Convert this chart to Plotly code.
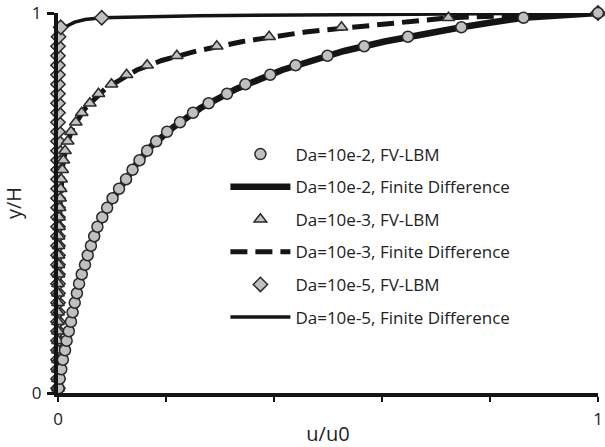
import plotly.graph_objects as go

# ---------------- data ----------------
y_cells = [0.0125, 0.0375, 0.0625, 0.0875, 0.1125, 0.1375, 0.1625, 0.1875, 0.2125, 0.2375,
           0.2625, 0.2875, 0.3125, 0.3375, 0.3625, 0.3875, 0.4125, 0.4375, 0.4625, 0.4875,
           0.5125, 0.5375, 0.5625, 0.5875, 0.6125, 0.6375, 0.6625, 0.6875, 0.7125, 0.7375,
           0.7625, 0.7875, 0.8125, 0.8375, 0.8625, 0.8875, 0.9125, 0.9375, 0.9625, 0.9875, 1.0]

u_da2_lbm = [0.001, 0.003, 0.006, 0.009, 0.013, 0.016, 0.020, 0.024, 0.027, 0.031,
             0.035, 0.039, 0.044, 0.050, 0.055, 0.061, 0.067, 0.073, 0.082, 0.091,
             0.101, 0.113, 0.126, 0.138, 0.151, 0.165, 0.182, 0.202, 0.226, 0.250,
             0.279, 0.313, 0.347, 0.393, 0.440, 0.499, 0.567, 0.648, 0.747, 0.862, 1.0]

u_da3_lbm = [0.000, 0.000, 0.000, 0.000, 0.000, 0.000, 0.000, 0.000, 0.000, 0.000,
             0.000, 0.000, 0.001, 0.001, 0.001, 0.001, 0.001, 0.002, 0.002, 0.003,
             0.004, 0.005, 0.006, 0.008, 0.010, 0.013, 0.018, 0.024, 0.033, 0.044,
             0.059, 0.075, 0.099, 0.127, 0.165, 0.220, 0.294, 0.391, 0.525, 0.723, 1.0]

u_da5_lbm = [0.000, 0.000, 0.000, 0.000, 0.000, 0.000, 0.000, 0.000, 0.000, 0.000,
             0.000, 0.000, 0.000, 0.000, 0.000, 0.000, 0.000, 0.000, 0.000, 0.000,
             0.000, 0.000, 0.000, 0.000, 0.000, 0.000, 0.000, 0.000, 0.000, 0.000,
             0.000, 0.000, 0.000, 0.000, 0.000, 0.000, 0.000, 0.001, 0.005, 0.081, 1.0]

# finite difference curves
y_fd2 = [0.0, 0.05, 0.1, 0.15, 0.2, 0.25, 0.3, 0.35, 0.4, 0.45, 0.5, 0.55, 0.6, 0.65,
         0.7, 0.75, 0.8, 0.85, 0.9, 0.925, 0.95, 0.9625, 0.975, 0.9875, 1.0]
u_fd2 = [0.0, 0.004, 0.011, 0.019, 0.027, 0.033, 0.041, 0.053, 0.065, 0.078, 0.096, 0.120,
         0.144, 0.173, 0.214, 0.264, 0.330, 0.415, 0.530, 0.605, 0.695, 0.747, 0.802, 0.862, 1.0]

y_fd3 = [0.0, 0.4, 0.5, 0.55, 0.6, 0.65, 0.7, 0.75, 0.8, 0.85, 0.875, 0.9, 0.925, 0.95,
         0.975, 0.9875, 1.0]
u_fd3 = [0.0, 0.001, 0.004, 0.006, 0.009, 0.015, 0.028, 0.051, 0.087, 0.146, 0.192, 0.257,
         0.342, 0.458, 0.624, 0.723, 1.0]

y_fd5 = [0.0, 0.93, 0.955, 0.963, 0.976, 0.983, 0.9875, 0.993, 0.996, 1.0]
u_fd5 = [0.0, 0.0, 0.004, 0.013, 0.031, 0.05, 0.081, 0.26, 0.6, 1.0]

names = ["Da=10e-2, FV-LBM", "Da=10e-2, Finite Difference",
         "Da=10e-3, FV-LBM", "Da=10e-3, Finite Difference",
         "Da=10e-5, FV-LBM", "Da=10e-5, Finite Difference"]

x_ticks = [0, 0.2, 0.4, 0.6, 0.8, 1]
x_ticktext = ["0", "", "", "", "", "1"]
y_ticks = [0, 1]
y_ticktext = ["0", "1"]

# ---------------- figure ----------------
FILL = "#c0c0c0"
EDGE = "#2a2a2a"
LINE = "#141414"
FONT = "Open Sans"

fig = go.Figure()

# lines first (drawn under markers)
fig.add_trace(go.Scatter(x=u_fd2, y=y_fd2, mode="lines", name=names[1], legendrank=2,
                         legendgroup="b", line=dict(color=LINE, width=6.5), cliponaxis=False))
fig.add_trace(go.Scatter(x=u_fd3, y=y_fd3, mode="lines", name=names[3], legendrank=4,
                         legendgroup="d", line=dict(color=LINE, width=5, dash="17px,8px"),
                         cliponaxis=False))
fig.add_trace(go.Scatter(x=u_fd5, y=y_fd5, mode="lines", name=names[5], legendrank=6,
                         legendgroup="f", line=dict(color=LINE, width=3.5), cliponaxis=False))

# markers
fig.add_trace(go.Scatter(x=u_da5_lbm, y=y_cells, mode="markers", name=names[4], legendrank=5,
                         legendgroup="e",
                         marker=dict(symbol="diamond", size=11, color=FILL,
                                     line=dict(color=EDGE, width=1.5)), cliponaxis=False))
fig.add_trace(go.Scatter(x=u_da3_lbm, y=y_cells, mode="markers", name=names[2], legendrank=3,
                         legendgroup="c",
                         marker=dict(symbol="triangle-up", size=11, color=FILL,
                                     line=dict(color=EDGE, width=1.5)), cliponaxis=False))
fig.add_trace(go.Scatter(x=u_da2_lbm, y=y_cells, mode="markers", name=names[0], legendrank=1,
                         legendgroup="a",
                         marker=dict(symbol="circle", size=11, color=FILL,
                                     line=dict(color=EDGE, width=1.5)), cliponaxis=False))

fig.update_layout(
    width=605, height=447,
    margin=dict(l=58, r=7, t=13, b=54),
    paper_bgcolor="white", plot_bgcolor="white",
    font=dict(family=FONT, size=17, color="#222"),
    showlegend=True,
    legend=dict(x=0.31, y=0.675, xanchor="left", yanchor="top",
                bgcolor="rgba(0,0,0,0)", font=dict(family=FONT, size=17, color="#222"),
                itemwidth=60, tracegroupgap=7.5, traceorder="grouped"),
    xaxis=dict(range=[0, 1], showgrid=False, zeroline=False, showline=True,
               linecolor=LINE, linewidth=4, ticks="outside", ticklen=5, tickwidth=2,
               tickcolor=LINE, tickvals=x_ticks, ticktext=x_ticktext,
               ticklabelstandoff=3, ticklabeloverflow="allow", automargin=False,
               title=dict(text="u/u0", font=dict(size=20), standoff=2)),
    yaxis=dict(range=[0, 1], showgrid=False, zeroline=False, showline=True,
               linecolor=LINE, linewidth=4, ticks="outside", ticklen=7, tickwidth=3,
               tickcolor=LINE, tickvals=y_ticks, ticktext=y_ticktext,
               ticklabelstandoff=2, automargin=False,
               title=dict(text="y/H", font=dict(size=20), standoff=8)),
)

fig.write_html("out.html")
